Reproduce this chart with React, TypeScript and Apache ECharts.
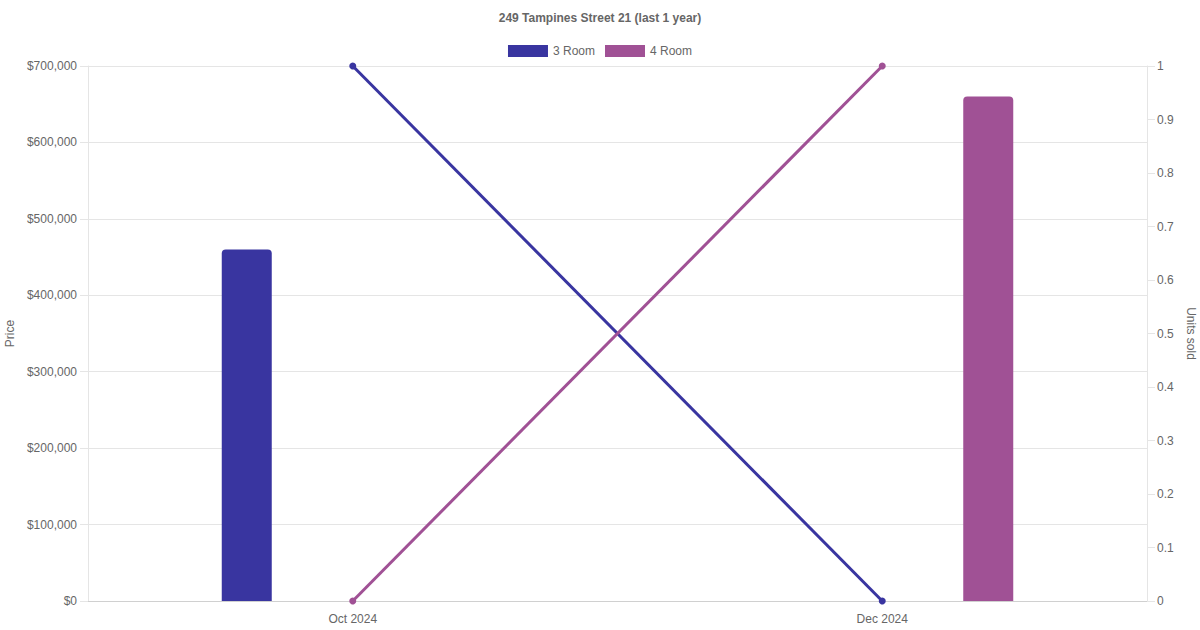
import { useEffect, useRef } from "react";
import * as echarts from "echarts";

const months = ["Oct 2024", "Dec 2024"];
const seriesNames = ["3 Room", "4 Room"];
const colors = ["#3935A0", "#A05195"];
// price bars (null where no sale)
const price3Room = [460000, null];
const price4Room = [null, 660000];
// units sold lines
const units3Room = [1, 0];
const units4Room = [0, 1];

const FONT = "'Liberation Sans', Arial, Helvetica, sans-serif";
const TEXT = "#666666";
const GRID = "#E5E5E5";

const fmtMoney = (v: number) => "$" + v.toLocaleString("en-US");

export default function App() {
  const ref = useRef<HTMLDivElement>(null);

  useEffect(() => {
    document.body.style.margin = "0";
    if (!ref.current) return;
    const chart = echarts.init(ref.current, undefined, { renderer: "svg" });
    chart.setOption({
      backgroundColor: "#FFFFFF",
      animation: false,
      textStyle: { fontFamily: FONT },
      title: {
        text: "249 Tampines Street 21 (last 1 year)",
        left: "center",
        top: 12,
        padding: 0,
        textStyle: { fontSize: 12, fontWeight: "bold", color: TEXT, fontFamily: FONT },
      },
      legend: {
        top: 45,
        left: "center",
        padding: 0,
        itemWidth: 40,
        itemHeight: 12,
        itemGap: 10,
        textStyle: { fontSize: 12, color: TEXT, fontFamily: FONT },
        data: seriesNames.map((n) => ({ name: n, icon: "rect" })),
      },
      grid: { left: 88, right: 53, top: 66, bottom: 29, outerBoundsMode: "none", containLabel: false },
      xAxis: {
        type: "category",
        data: months,
        axisLine: { lineStyle: { color: "#D0D0D0" } },
        axisTick: { show: false },
        axisLabel: { color: TEXT, fontSize: 12, margin: 12, fontFamily: FONT },
        splitLine: { show: false },
      },
      yAxis: [
        {
          type: "value",
          name: "Price",
          nameLocation: "middle",
          nameGap: 71,
          nameTextStyle: { color: TEXT, fontSize: 12, fontFamily: FONT },
          min: 0,
          max: 700000,
          interval: 100000,
          axisLine: { show: true, lineStyle: { color: GRID } },
          axisTick: { show: true, length: 8, lineStyle: { color: GRID } },
          axisLabel: { color: TEXT, fontSize: 12, margin: 11, formatter: fmtMoney, fontFamily: FONT },
          splitLine: { lineStyle: { color: GRID } },
        },
        {
          type: "value",
          name: "Units sold",
          nameLocation: "middle",
          nameGap: 36,
          nameRotate: -90,
          nameTextStyle: { color: TEXT, fontSize: 12, fontFamily: FONT },
          min: 0,
          max: 1,
          interval: 0.1,
          position: "right",
          axisLine: { show: true, lineStyle: { color: GRID } },
          axisTick: { show: true, length: 8, lineStyle: { color: GRID } },
          axisLabel: { color: TEXT, fontSize: 12, margin: 10, fontFamily: FONT },
          splitLine: { show: false },
        },
      ],
      series: [
        {
          name: seriesNames[0],
          type: "bar",
          data: price3Room.map((v) => (v == null ? "-" : v)),
          barWidth: 50,
          barGap: "324%",
          itemStyle: { color: colors[0], borderRadius: [4, 4, 0, 0] },
        },
        {
          name: seriesNames[1],
          type: "bar",
          data: price4Room.map((v) => (v == null ? "-" : v)),
          barWidth: 50,
          barGap: "324%",
          itemStyle: { color: colors[1], borderRadius: [4, 4, 0, 0] },
        },
        {
          name: seriesNames[0],
          type: "line",
          yAxisIndex: 1,
          data: units3Room,
          symbol: "circle",
          symbolSize: 7,
          lineStyle: { width: 3, color: colors[0] },
          itemStyle: { color: colors[0] },
        },
        {
          name: seriesNames[1],
          type: "line",
          yAxisIndex: 1,
          data: units4Room,
          symbol: "circle",
          symbolSize: 7,
          lineStyle: { width: 3, color: colors[1] },
          itemStyle: { color: colors[1] },
        },
      ],
    });
    return () => chart.dispose();
  }, []);

  return <div ref={ref} style={{ position: "fixed", left: 0, top: 0, width: 1200, height: 630 }} />;
}
